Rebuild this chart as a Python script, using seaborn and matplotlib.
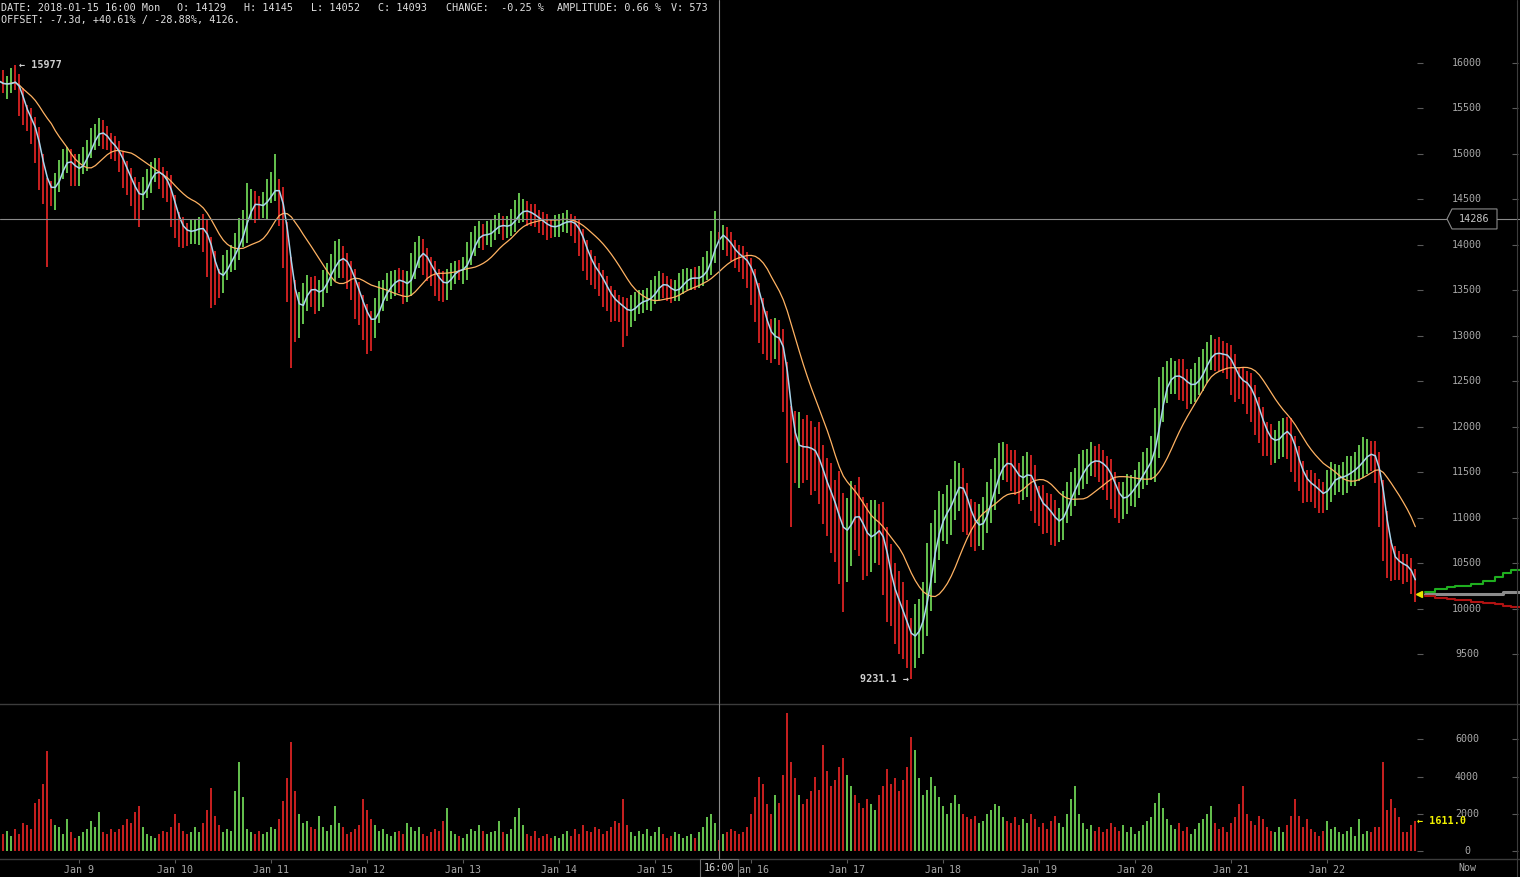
import numpy as np
import pandas as pd
import seaborn as sns
import matplotlib.pyplot as plt
import matplotlib.dates as mdates
from matplotlib.patches import Polygon
from matplotlib.lines import Line2D

# hourly bars, BTC chart Jan 8 04:00 -> Jan 22 22:00
start = "2018-01-08 04:00"
first_open = 15860

close = [
    15800, 15750, 15760, 15810, 15800, 15620, 15450, 15400, 15330, 15150,
    14900, 14700, 14620, 14580, 14700, 14820, 14930, 14960, 14850, 14800,
    14880, 14930, 15050, 15150, 15240, 15270, 15180, 15140, 15090, 15040,
    14950, 14830, 14730, 14650, 14540, 14500, 14620, 14720, 14810, 14830,
    14760, 14720, 14650, 14450, 14280, 14200, 14150, 14140, 14160, 14180,
    14190, 14170, 14000, 13820, 13640, 13620, 13740, 13820, 13870, 13990,
    14100, 14200, 14430, 14470, 14440, 14420, 14440, 14560, 14600, 14630,
    14560, 14150, 13820, 13500, 13230, 13330, 13450, 13550, 13520, 13460,
    13470, 13590, 13680, 13750, 13840, 13890, 13820, 13740, 13640, 13490,
    13370, 13260, 13160, 13130, 13270, 13400, 13480, 13540, 13590, 13630,
    13620, 13550, 13560, 13730, 13900, 13950, 13870, 13780, 13700, 13640,
    13580, 13550, 13620, 13700, 13730, 13720, 13740, 13880, 14010, 14090,
    14130, 14100, 14110, 14170, 14220, 14220, 14200, 14200, 14260, 14340,
    14380, 14380, 14360, 14330, 14300, 14260, 14230, 14200, 14190, 14210,
    14240, 14260, 14260, 14250, 14200, 14080, 13960, 13830, 13760, 13700,
    13640, 13540, 13450, 13400, 13360, 13330, 13290, 13250, 13300, 13360,
    13380, 13390, 13400, 13460, 13530, 13590, 13570, 13520, 13480, 13500,
    13560, 13620, 13640, 13640, 13630, 13640, 13720, 13790, 13950, 14129,
    14093, 14100, 14010, 13940, 13900, 13870, 13830, 13780, 13640, 13500,
    13320, 13150, 13040, 12950, 13000, 12980, 12660, 12200, 11830, 11780,
    11790, 11780, 11770, 11750, 11700, 11500, 11380, 11300, 11170, 11020,
    10880, 10800, 10920, 11060, 11050, 10930, 10820, 10760, 10800, 10900,
    10880, 10600, 10360, 10210, 10070, 10000, 9850, 9700, 9650, 9760,
    9860, 10000, 10380, 10640, 10840, 11000, 11060, 11110, 11230, 11380,
    11400, 11200, 11060, 10980, 10890, 10900, 11030, 11150, 11340, 11460,
    11570, 11630, 11600, 11550, 11450, 11400, 11480, 11540, 11380, 11200,
    11160, 11120, 11080, 11000, 10940, 10960, 11100, 11220, 11310, 11400,
    11500, 11570, 11610, 11640, 11630, 11600, 11560, 11500, 11380, 11250,
    11190, 11220, 11280, 11320, 11400, 11470, 11540, 11620, 11700, 11960,
    12300, 12460, 12540, 12560, 12570, 12550, 12490, 12450, 12460, 12500,
    12570, 12680, 12780, 12820, 12810, 12800, 12790, 12780, 12650, 12520,
    12510, 12500, 12440, 12330, 12210, 12070, 11930, 11880, 11830, 11850,
    11920, 11980, 11950, 11780, 11640, 11500, 11410, 11380, 11360, 11310,
    11260, 11240, 11380, 11430, 11440, 11450, 11460, 11500, 11530, 11560,
    11620, 11680, 11720, 11700, 11630, 11300, 10980, 10640, 10560, 10520,
    10500, 10470, 10450, 10350, 10165,
]

up_wick = [
    90, 120, 100, 140, 167, 80, 100, 90, 110, 80,
    150, 100, 40, 80, 90, 110, 130, 120, 100, 150,
    120, 150, 100, 130, 90, 120, 100, 130, 90, 110,
    100, 80, 90, 120, 100, 150, 130, 120, 100, 130,
    130, 100, 90, 120, 100, 80, 110, 90, 120, 100,
    120, 150, 100, 90, 110, 100, 150, 120, 130, 140,
    200, 180, 250, 150, 120, 100, 140, 160, 200, 370,
    100, 80, 100, 50, 120, 150, 130, 120, 100, 140,
    150, 130, 120, 150, 200, 180, 100, 90, 80, 100,
    100, 80, 90, 120, 150, 200, 130, 150, 120, 100,
    120, 100, 150, 180, 130, 150, 120, 100, 90, 120,
    100, 130, 120, 100, 90, 110, 130, 150, 130, 120,
    130, 100, 150, 120, 110, 130, 100, 120, 130, 150,
    195, 130, 100, 90, 120, 80, 100, 110, 90, 120,
    100, 90, 120, 80, 70, 80, 100, 90, 110, 120,
    100, 90, 120, 100, 110, 90, 100, 130, 150, 120,
    120, 110, 130, 150, 130, 120, 100, 90, 110, 120,
    130, 120, 110, 100, 120, 130, 150, 140, 200, 245,
    16, 120, 100, 130, 110, 100, 120, 90, 80, 100,
    80, 100, 120, 150, 200, 180, 100, 50, 30, 350,
    380, 300, 350, 300, 250, 350, 300, 280, 300, 250,
    500, 400, 300, 350, 300, 400, 300, 350, 400, 300,
    250, 300, 300, 350, 300, 350, 300, 250, 200, 300,
    250, 300, 350, 300, 250, 300, 200, 250, 200, 250,
    200, 150, 180, 150, 200, 250, 200, 250, 200, 200,
    250, 200, 180, 150, 200, 150, 200, 180, 150, 200,
    150, 200, 150, 180, 200, 150, 200, 180, 200, 150,
    200, 180, 150, 200, 150, 180, 150, 120, 150, 130,
    150, 180, 200, 150, 130, 150, 180, 150, 200, 250,
    250, 200, 180, 200, 150, 180, 200, 150, 180, 200,
    200, 180, 150, 190, 150, 180, 150, 130, 120, 150,
    130, 150, 120, 150, 130, 120, 150, 130, 150, 120,
    150, 120, 130, 150, 120, 150, 130, 120, 150, 130,
    120, 130, 150, 180, 150, 130, 150, 180, 150, 160,
    180, 214, 150, 130, 150, 100, 120, 100, 120, 130,
    120, 100, 130, 110, 90,
]

down_wick = [
    120, 80, 150, 90, 100, 200, 130, 150, 220, 250,
    300, 250, 860, 150, 200, 120, 100, 140, 200, 150,
    150, 100, 120, 90, 110, 150, 120, 100, 140, 120,
    150, 200, 180, 220, 250, 300, 120, 100, 150, 120,
    150, 200, 180, 250, 200, 220, 180, 150, 130, 150,
    180, 250, 350, 510, 300, 200, 150, 130, 120, 150,
    150, 120, 180, 150, 200, 130, 120, 150, 100, 120,
    350, 400, 450, 850, 300, 250, 200, 180, 200, 220,
    180, 150, 120, 130, 150, 200, 180, 220, 250, 300,
    250, 300, 360, 300, 150, 130, 120, 100, 130, 150,
    150, 200, 180, 120, 100, 150, 200, 180, 150, 200,
    200, 180, 150, 120, 130, 100, 150, 120, 100, 130,
    120, 150, 100, 130, 120, 100, 150, 120, 100, 120,
    100, 130, 150, 120, 100, 130, 120, 140, 110, 100,
    120, 100, 130, 150, 180, 200, 250, 220, 200, 180,
    200, 220, 180, 250, 200, 180, 410, 250, 150, 130,
    120, 130, 100, 120, 110, 130, 150, 140, 120, 100,
    120, 100, 110, 130, 120, 100, 90, 100, 120, 150,
    41, 150, 130, 120, 150, 170, 200, 250, 300, 350,
    400, 350, 300, 250, 200, 300, 500, 600, 930, 400,
    450, 400, 350, 500, 400, 350, 450, 500, 550, 500,
    600, 833, 500, 450, 400, 350, 500, 400, 350, 300,
    400, 450, 500, 400, 450, 500, 400, 350, 419, 300,
    300, 350, 300, 400, 350, 300, 250, 350, 300, 250,
    300, 350, 250, 300, 250, 200, 250, 200, 200, 250,
    200, 150, 200, 250, 200, 250, 200, 250, 300, 250,
    250, 300, 250, 300, 250, 200, 200, 150, 200, 180,
    150, 180, 200, 150, 180, 200, 250, 300, 280, 250,
    250, 200, 180, 150, 200, 180, 150, 180, 200, 300,
    300, 250, 200, 180, 200, 250, 200, 250, 200, 180,
    150, 180, 200, 150, 200, 180, 200, 250, 300, 250,
    200, 250, 300, 280, 300, 250, 250, 200, 250, 230,
    200, 250, 300, 280, 250, 200, 250, 200, 180, 200,
    200, 180, 150, 200, 180, 150, 200, 180, 150, 180,
    150, 180, 200, 180, 250, 400, 450, 300, 250, 200,
    180, 200, 150, 180, 85,
]

volume = [
    1000, 900, 1100, 800, 1200, 900, 1500, 1400, 1200, 2600,
    2800, 3600, 5350, 1700, 1400, 1300, 900, 1700, 1000, 700,
    800, 1000, 1200, 1600, 1300, 2100, 1000, 900, 1200, 1000,
    1200, 1400, 1700, 1500, 2100, 2400, 1300, 900, 800, 700,
    900, 1100, 1000, 1300, 2000, 1500, 1100, 900, 1000, 1300,
    1000, 1500, 2200, 3400, 1900, 1400, 1000, 1200, 1100, 3200,
    4800, 2900, 1200, 1000, 900, 1100, 900, 1000, 1300, 1200,
    1700, 2700, 3900, 5830, 3200, 2000, 1500, 1600, 1300, 1200,
    1900, 1300, 1100, 1400, 2400, 1500, 1300, 900, 1000, 1200,
    1400, 2800, 2200, 1700, 1400, 1100, 1200, 900, 800, 1000,
    1100, 900, 1500, 1300, 1100, 1300, 900, 800, 1000, 1200,
    1100, 1600, 2300, 1100, 900, 800, 700, 900, 1200, 1100,
    1400, 1100, 900, 1000, 1100, 1600, 1000, 900, 1200, 1800,
    2300, 1400, 900, 800, 1100, 700, 800, 900, 700, 800,
    700, 900, 1100, 800, 1200, 900, 1400, 1100, 1000, 1300,
    1200, 900, 1100, 1300, 1600, 1500, 2800, 1400, 1000, 800,
    1100, 900, 1200, 800, 1000, 1300, 900, 700, 800, 1000,
    900, 700, 800, 900, 700, 1000, 1300, 1800, 2000, 1500,
    573, 900, 1000, 1200, 1100, 900, 1000, 1300, 2000, 2900,
    4000, 3600, 2500, 2000, 3000, 2600, 4100, 7400, 4800, 3900,
    3000, 2500, 2800, 3200, 4000, 3300, 5700, 4300, 3500, 3800,
    4500, 5000, 4100, 3500, 3000, 2600, 2300, 2800, 2500, 2200,
    3000, 3500, 4400, 3600, 3900, 3200, 3800, 4500, 6100, 5400,
    3900, 3000, 3300, 4000, 3500, 2900, 2400, 2000, 2600, 3000,
    2500, 2000, 1800, 1700, 1900, 1500, 1600, 2000, 2200, 2500,
    2400, 1800, 1600, 1500, 1800, 1400, 1700, 1500, 2000, 1700,
    1300, 1500, 1200, 1600, 1900, 1500, 1300, 2000, 2800, 3500,
    2000, 1500, 1200, 1400, 1100, 1300, 1000, 1200, 1500, 1300,
    1100, 1400, 1000, 1300, 900, 1100, 1400, 1600, 1800, 2600,
    3100, 2300, 1700, 1400, 1200, 1500, 1100, 1300, 900, 1200,
    1500, 1700, 2000, 2400, 1500, 1200, 1300, 1000, 1500, 1800,
    2500, 3500, 2000, 1600, 1400, 1900, 1700, 1300, 1100, 1000,
    1300, 1000, 1400, 1900, 2800, 1900, 1300, 1700, 1200, 1000,
    800, 1100, 1600, 1200, 1300, 1000, 900, 1100, 1300, 800,
    1700, 900, 1100, 1000, 1300, 1300, 4800, 2200, 2800, 2300,
    1800, 1000, 1000, 1400, 1611,
]

# projection lines after the last bar (hours ahead)
proj_hours = [2.5, 5, 8, 10, 14, 17, 20, 22, 24, 26.5]
proj_up = [10190, 10215, 10240, 10255, 10280, 10310, 10355, 10400, 10430, 10470]
proj_mid = [10165, 10165, 10165, 10165, 10165, 10165, 10165, 10190, 10190, 10190]
proj_down = [10145, 10125, 10110, 10100, 10080, 10065, 10050, 10035, 10025, 10020]

price_ticks = [9500, 10000, 10500, 11000, 11500, 12000, 12500, 13000,
               13500, 14000, 14500, 15000, 15500, 16000]
volume_ticks = [0, 2000, 4000, 6000]
day_labels = ["Jan 9", "Jan 10", "Jan 11", "Jan 12", "Jan 13", "Jan 14", "Jan 15",
              "Jan 16", "Jan 17", "Jan 18", "Jan 19", "Jan 20", "Jan 21", "Jan 22"]

cross_time = "2018-01-15 16:00"
cross_price = 14286

header = [(1, "DATE: 2018-01-15 16:00 Mon"), (177, "O: 14129"), (244, "H: 14145"),
          (311, "L: 14052"), (378, "C: 14093"), (446, "CHANGE:  -0.25 %"),
          (557, "AMPLITUDE: 0.66 %"), (671, "V: 573")]
offset_line = "OFFSET: -7.3d, +40.61% / -28.88%, 4126."

GREEN = "#62bd4c"
RED = "#c41f1f"
GRAY = "#a8a8a8"

sns.set_theme(style="dark", rc={"axes.facecolor": "black", "figure.facecolor": "black",
                                "axes.grid": False})
plt.rcParams["font.family"] = ["DejaVu Sans Mono"]

df = pd.DataFrame({"close": close, "up": up_wick, "down": down_wick, "volume": volume})
df["time"] = pd.date_range(start, periods=len(df), freq="h")
df["x"] = mdates.date2num(df["time"])
df["open"] = df["close"].shift(1).fillna(first_open)
df["high"] = df[["open", "close"]].max(axis=1) + df["up"]
df["low"] = df[["open", "close"]].min(axis=1) - df["down"]
df["color"] = np.where(df["close"] >= df["open"], GREEN, RED)
df["ma_fast"] = df["close"].rolling(3, min_periods=1).mean()
df["ma_slow"] = df["close"].rolling(14, min_periods=1).mean()

last_time = df["time"].iloc[-1]
hour = pd.Timedelta(hours=1)
proj_x = mdates.date2num(last_time + pd.to_timedelta(proj_hours, unit="h"))

W, H = 1520, 877
fig = plt.figure(figsize=(W / 100, H / 100), dpi=100)
ax_p = fig.add_axes([0, (H - 704) / H, 1, 704 / H])
ax_v = fig.add_axes([0, (H - 859) / H, 1, 155 / H])

xlim = mdates.date2num([pd.Timestamp("2018-01-08 04:10"), pd.Timestamp("2018-01-24 00:10")])
for ax in (ax_p, ax_v):
    ax.set_xlim(*xlim)
    ax.set_facecolor("black")
    ax.set_yticks([])
ax_p.set_ylim(8956, 16692)
ax_v.set_ylim(-430, 7895)

# price bars (crisp 2px sticks)
ax_p.vlines(df["x"], df["low"], df["high"], colors=df["color"], lw=1.44,
            antialiased=False, zorder=2)
sns.lineplot(x=df["x"], y=df["ma_slow"], ax=ax_p, color="#ffb262", lw=0.9, estimator=None, zorder=3)
sns.lineplot(x=df["x"], y=df["ma_fast"], ax=ax_p, color="#aad6ee", lw=1.1, estimator=None, zorder=4)

# projections
sns.lineplot(x=proj_x, y=proj_mid, ax=ax_p, color="#8c8c8c", lw=2.2, drawstyle="steps-post", estimator=None)
sns.lineplot(x=proj_x, y=proj_up, ax=ax_p, color="#1fae1f", lw=1.5, drawstyle="steps-post", estimator=None)
sns.lineplot(x=proj_x, y=proj_down, ax=ax_p, color="#b01212", lw=1.5, drawstyle="steps-post", estimator=None)
ax_p.plot(mdates.date2num(last_time + hour), close[-1], marker="<", color="#e8e800", ms=5, zorder=6)

# volume bars
ax_v.vlines(df["x"], 0, df["volume"], colors=df["color"], lw=1.44, antialiased=False)

# crosshair
cx = mdates.date2num(pd.Timestamp(cross_time))
ax_p.axvline(cx, color="#8a8a8a", lw=0.8, zorder=5)
ax_v.axvline(cx, color="#8a8a8a", lw=0.8, zorder=5)
ax_p.axhline(cross_price, color="#8a8a8a", lw=0.8, zorder=5)
box = Polygon([(1447 / W, cross_price), (1452 / W, cross_price + 110), (1497 / W, cross_price + 110),
               (1497 / W, cross_price - 110), (1452 / W, cross_price - 110)],
              closed=True, transform=ax_p.get_yaxis_transform(), fc="black", ec="#8a8a8a", lw=0.8, zorder=7)
ax_p.add_patch(box)
ax_p.text(1474 / W, cross_price, str(cross_price), transform=ax_p.get_yaxis_transform(),
          ha="center", va="center", color="#c8c8c8", fontsize=7.3, zorder=8)

# right-hand scales
for ax, ticks in ((ax_p, price_ticks), (ax_v, volume_ticks)):
    tr = ax.get_yaxis_transform()
    ax.hlines(ticks, 1417 / W, 1423 / W, transform=tr, color="#5a5a5a", lw=0.8)
    ax.hlines(ticks, 1512 / W, 1518 / W, transform=tr, color="#5a5a5a", lw=0.8)
    for t in ticks:
        ax.text(1467 / W, t, str(t), transform=tr, ha="center", va="center", color=GRAY, fontsize=7.2)

# extreme labels
ax_p.text(df["x"].iloc[4] + 1 / 24, 15977, "\u2190 15977", ha="left", va="center",
          color="#cfcfcf", fontsize=7.3, fontweight="bold")
ax_p.text(df["x"].iloc[228] - 0.5 / 24, 9231.1, "9231.1 \u2192", ha="right", va="center",
          color="#cfcfcf", fontsize=7.3, fontweight="bold")
ax_v.text(df["x"].iloc[-1] + 0.5 / 24, volume[-1], "\u2190 1611.0", ha="left", va="center",
          color="#f2f200", fontsize=7.3, fontweight="bold", zorder=8)

# panels and x axis
for s in ax_p.spines.values():
    s.set_visible(False)
for name, s in ax_v.spines.items():
    s.set_visible(name in ("top", "bottom"))
    s.set_color("#3c3c3c")
    s.set_linewidth(1.0)
ax_p.set_xticks([])
day_x = mdates.date2num(pd.date_range("2018-01-09", periods=len(day_labels), freq="D"))
ax_v.set_xticks(day_x)
ax_v.set_xticklabels(day_labels)
ax_v.tick_params(axis="x", direction="out", length=3, width=0.8, color="#5a5a5a",
                 labelcolor=GRAY, labelsize=7.2, pad=1.5, bottom=True)
ax_v.text(1467 / W, -0.058, "Now", transform=ax_v.transAxes, ha="center", va="center",
          color=GRAY, fontsize=7.2)
ax_v.text(cx, -0.058, "16:00", transform=ax_v.get_xaxis_transform(), ha="center", va="center",
          color="#d0d0d0", fontsize=7.3, clip_on=False, zorder=10,
          bbox=dict(boxstyle="square,pad=0.35", fc="black", ec="#6e6e6e", lw=0.8))
fig.add_artist(Line2D([1517 / W, 1517 / W], [0, 1], transform=fig.transFigure, color="#3c3c3c", lw=0.8))

# header
for px, txt in header:
    fig.text(px / W, 1 - 8 / H, txt, ha="left", va="center", color="#e0e0e0", fontsize=7.3)
fig.text(1 / W, 1 - 20 / H, offset_line, ha="left", va="center", color="#e0e0e0", fontsize=7.3)

fig.savefig("out.png", dpi=100, facecolor="black")
